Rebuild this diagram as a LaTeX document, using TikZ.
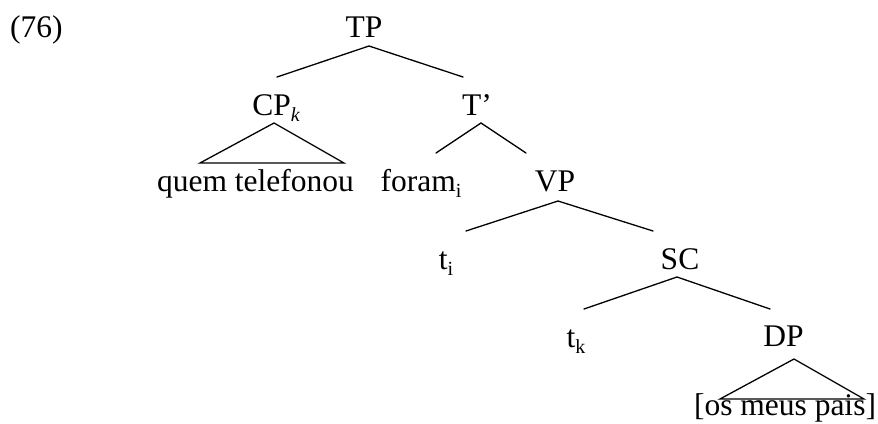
\documentclass[tikz,border=0pt]{standalone}
\usepackage{fontspec}
\setmainfont{Liberation Serif}
\newcommand{\sbs}[1]{\raisebox{-0.22em}{\fontsize{20}{20}\selectfont #1}}
\begin{document}
\begin{tikzpicture}[x=1pt,y=-1pt,
  lbl/.style={anchor=base,inner sep=0pt,font=\fontsize{31.5}{37}\selectfont},
  br/.style={line width=1.3pt,line cap=round}]
\useasboundingbox (0,0) rectangle (878,423);
\node[lbl,anchor=base west] (ex) at (10,37) {(76)};
\node[lbl] (TP) at (364,37) {TP};
\node[lbl] (CP) at (276,115) {CP\sbs{\itshape k}};
\node[lbl] (Tb) at (477,115) {T’};
\node[lbl] (quem) at (255.5,191) {quem telefonou};
\node[lbl] (foram) at (421,191) {foram\sbs{i}};
\node[lbl] (VP) at (555,191) {VP};
\node[lbl] (ti) at (446,269) {t\sbs{i}};
\node[lbl] (SC) at (680,269) {SC};
\node[lbl] (tk) at (576,347) {t\sbs{k}};
\node[lbl] (DP) at (783.5,346) {DP};
\node[lbl] (pais) at (785,415) {[os meus pais]};
% coordinates
\coordinate (tpA) at (369,46);
\coordinate (tpL) at (277,77);
\coordinate (tpR) at (463,77);
\coordinate (cpA) at (274,123);
\coordinate (cpL) at (200,163);
\coordinate (cpR) at (344,163);
\coordinate (tbA) at (481,123);
\coordinate (tbL) at (436,153);
\coordinate (tbR) at (526,153);
\coordinate (vpA) at (558,201);
\coordinate (vpL) at (466,231);
\coordinate (vpR) at (653,231);
\coordinate (scA) at (677,277);
\coordinate (scL) at (584,309);
\coordinate (scR) at (770,309);
\coordinate (dpA) at (794,359);
\coordinate (dpL) at (720,399);
\coordinate (dpR) at (864,399);
\draw[br] (tpL) -- (tpA) -- (tpR);
\draw[br] (cpA) -- (cpL) -- (cpR) -- cycle;
\draw[br] (tbL) -- (tbA) -- (tbR);
\draw[br] (vpL) -- (vpA) -- (vpR);
\draw[br] (scL) -- (scA) -- (scR);
\draw[br] (dpA) -- (dpL) -- (dpR) -- cycle;
\end{tikzpicture}
\end{document}
